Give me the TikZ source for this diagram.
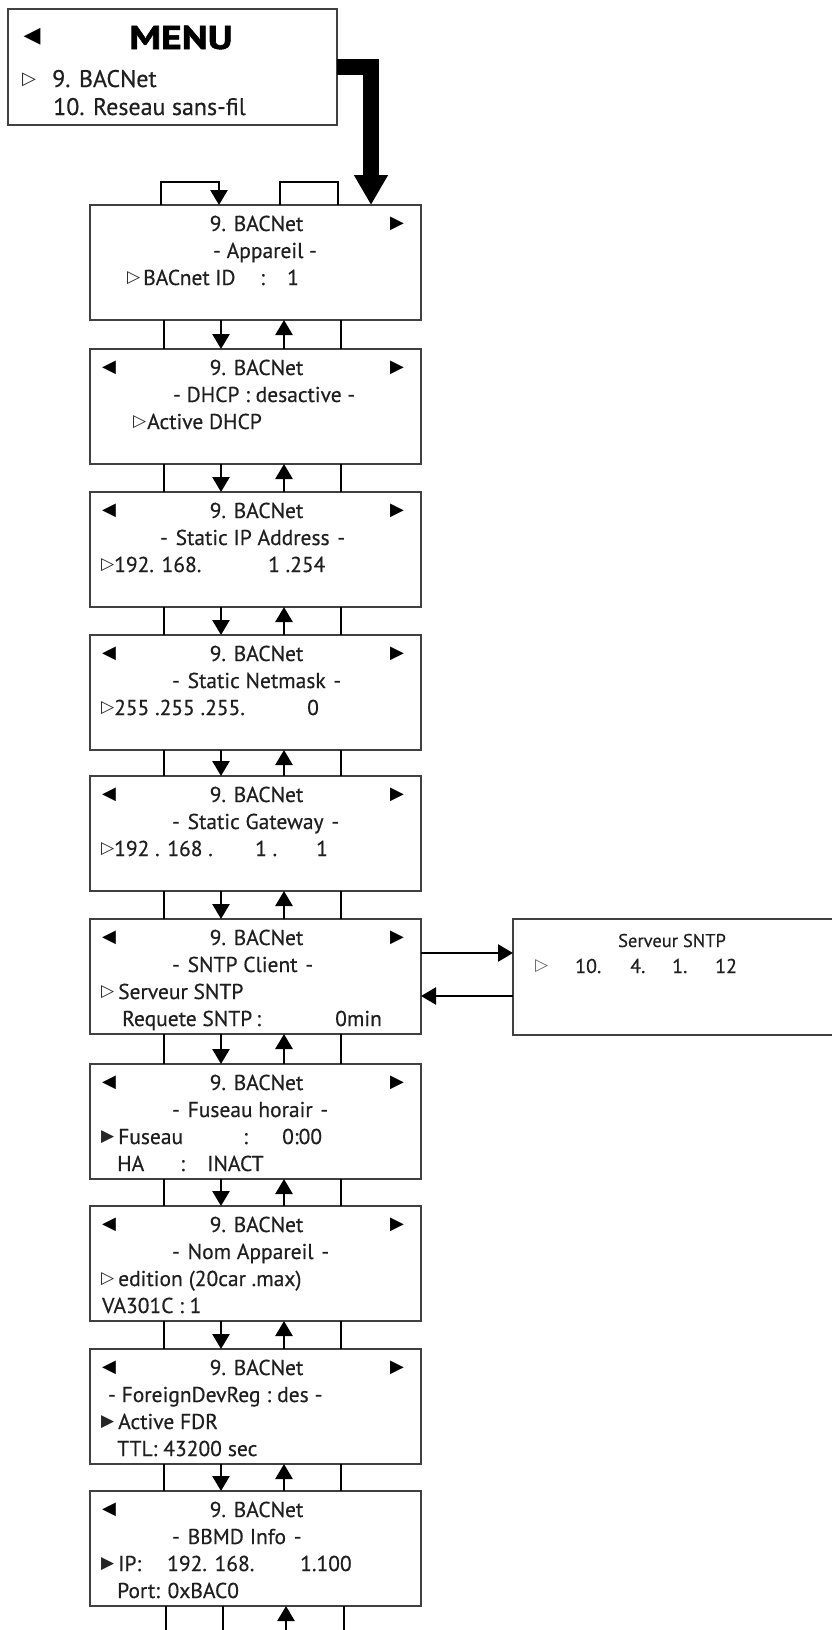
\documentclass[tikz,border=0pt]{standalone}
\usepackage{fontspec}
\usepackage{graphicx}
\setmainfont{PT Sans}[FakeBold=0.45]
\newfontfamily\menufont{PT Sans}[FakeBold=1.6]
\newfontfamily\sym{DejaVu Sans}
\usetikzlibrary{arrows.meta}
\newcommand\scr[4]{%
  \node[screen] (#1) at (90,#2) {};
  \node[ct] (#1-r1) at ([xshift=1pt,yshift=-26pt]#1.north) {9. BACNet};
  \ifnum#3=1 \node[mk] (#1-l) at ([xshift=19pt,yshift=-18.5pt]#1.north west) {◀};\fi
  \ifnum#4=1 \node[mk] (#1-r) at ([xshift=307pt,yshift=-18.5pt]#1.north west) {▶};\fi
}
\newcommand\putl[5]{\node[lt] (#1) at ([xshift=#3pt,yshift=-#4pt]#2.north west) {#5};}
\newcommand\puttri[5]{\node[tri] (#1) at ([xshift=#3pt,yshift=-#4pt]#2.north west) {#5};}
\begin{document}
\begin{tikzpicture}[x=1pt,y=-1pt,
  screen/.style={draw=black!75, line width=1.6pt, minimum width=331pt, minimum height=115pt, anchor=north west, inner sep=0pt, outer sep=0pt},
  conn/.style={line width=2.6pt, draw=black},
  endtip/.style={-{Triangle[length=15pt,width=17pt]}},
  starttip/.style={{Triangle[length=15pt,width=17pt]}-},
  txt/.style={font=\fontsize{21.5}{24}\selectfont, inner sep=0pt, text=black!88},
  lt/.style={txt, anchor=base west},
  ct/.style={txt, anchor=base},
  mk/.style={font=\sym\fontsize{18}{20}\selectfont, inner sep=0pt, anchor=center, text=black},
  tri/.style={font=\sym\fontsize{17}{20}\selectfont, inner sep=0pt, anchor=west, text=black!85},
]
\useasboundingbox (0,0) rectangle (832,1630);

% MENU
\node[draw=black!75, line width=1.6pt, minimum width=329pt, minimum height=116pt, anchor=north west, inner sep=0pt, outer sep=0pt] (menu) at (8,9) {};
\node[font=\menufont\bfseries\fontsize{33}{40}\selectfont, inner sep=0pt, anchor=base] (menu-t) at ([xshift=8.5pt,yshift=-40pt]menu.north) {\scalebox{1.2}[1]{MENU}};
\node[mk, font=\sym\fontsize{22}{24}\selectfont] (menu-l) at ([xshift=24pt,yshift=-28pt]menu.north west) {◀};
\node[tri, font=\sym\fontsize{18}{20}\selectfont] (menu-p) at ([xshift=14pt,yshift=-71pt]menu.north west) {▷};
\node[lt, font=\fontsize{24}{26}\selectfont] (menu-a) at ([xshift=44pt,yshift=-78pt]menu.north west) {9. BACNet};
\node[lt, font=\fontsize{24}{26}\selectfont] (menu-b) at ([xshift=45pt,yshift=-106pt]menu.north west) {10. Reseau sans-fil};

% screens
\scr{b1}{205}{0}{1}
\scr{b2}{349}{1}{1}
\scr{b3}{492}{1}{1}
\scr{b4}{635}{1}{1}
\scr{b5}{776}{1}{1}
\scr{b6}{919}{1}{1}
\scr{b7}{1064}{1}{1}
\scr{b8}{1206}{1}{1}
\scr{b9}{1349}{1}{1}
\scr{b10}{1491}{1}{0}

% b1
\putl{b1-r2}{b1}{123}{53}{- Appareil -}
\puttri{b1-p}{b1}{37}{73}{▷}
\putl{b1-a}{b1}{53}{80}{BACnet}
\putl{b1-b}{b1}{125}{80}{ID}
\putl{b1-c}{b1}{170}{80}{:}
\putl{b1-d}{b1}{197}{80}{1}
% b2
\putl{b2-r2}{b2}{83}{53}{- DHCP : desactive -}
\puttri{b2-p}{b2}{43}{73}{▷}
\putl{b2-a}{b2}{57}{80}{Active DHCP}
% b3
\putl{b3-r2}{b3}{70}{53}{- \hspace{2pt}Static IP Address\hspace{2pt} -}
\puttri{b3-p}{b3}{11}{73}{▷}
\putl{b3-a}{b3}{24}{80}{192. 168.}
\putl{b3-b}{b3}{178}{80}{1 .254}
% b4
\putl{b4-r2}{b4}{82}{53}{- \hspace{2pt}Static Netmask\hspace{2pt} -}
\puttri{b4-p}{b4}{11}{73}{▷}
\putl{b4-a}{b4}{24}{80}{255 .255 .255.}
\putl{b4-b}{b4}{217}{80}{0}
% b5
\putl{b5-r2}{b5}{82}{53}{- \hspace{2pt}Static Gateway\hspace{2pt} -}
\puttri{b5-p}{b5}{11}{73}{▷}
\putl{b5-a}{b5}{24}{80}{192 . 168 .}
\putl{b5-b}{b5}{165}{80}{1 .}
\putl{b5-c}{b5}{226}{80}{1}
% b6
\putl{b6-r2}{b6}{82}{53}{- \hspace{2pt}SNTP Client\hspace{2pt} -}
\puttri{b6-p}{b6}{11}{73}{▷}
\putl{b6-a}{b6}{28}{80}{Serveur SNTP}
\putl{b6-b}{b6}{32}{107}{Requete SNTP\hspace{4pt}:}
\putl{b6-c}{b6}{245}{107}{0min}
% b7
\putl{b7-r2}{b7}{82}{53}{- \hspace{2pt}Fuseau horair\hspace{2pt} -}
\puttri{b7-p}{b7}{11}{73}{▶}
\putl{b7-a}{b7}{28}{80}{Fuseau}
\putl{b7-b}{b7}{153}{80}{:}
\putl{b7-c}{b7}{192}{80}{0:00}
\putl{b7-d}{b7}{27}{107}{HA}
\putl{b7-e}{b7}{90}{107}{:}
\putl{b7-f}{b7}{117}{107}{INACT}
% b8
\putl{b8-r2}{b8}{82}{53}{- \hspace{2pt}Nom Appareil\hspace{2pt} -}
\puttri{b8-p}{b8}{11}{73}{▷}
\putl{b8-a}{b8}{28}{80}{edition\hspace{6pt}(20car .max)}
\putl{b8-b}{b8}{12}{107}{VA301C : 1}
% b9
\putl{b9-r2}{b9}{18}{53}{- ForeignDevReg\hspace{6pt}:\hspace{6pt}des\hspace{6pt}-}
\puttri{b9-p}{b9}{11}{73}{▶}
\putl{b9-a}{b9}{28}{80}{Active FDR}
\putl{b9-b}{b9}{27}{107}{TTL:\hspace{6pt}43200\hspace{6pt}sec}
% b10
\putl{b10-r2}{b10}{82}{53}{- \hspace{2pt}BBMD\hspace{6pt}Info\hspace{2pt} -}
\puttri{b10-p}{b10}{11}{73}{▶}
\putl{b10-a}{b10}{28}{80}{IP:}
\putl{b10-b}{b10}{77}{80}{192. 168.}
\putl{b10-c}{b10}{210}{80}{1.100}
\putl{b10-d}{b10}{27}{107}{Port: 0xBAC0}

% big arrow from menu
\draw[line width=16pt, line join=miter, -{Triangle[length=30pt,width=32pt]}] (menu.east) -| ([xshift=281pt]b1.north west);

% top loops
\draw[conn, endtip] ([xshift=71pt]b1.north west) -- ++(0,-23) -| ([xshift=129pt]b1.north west);
\draw[conn] ([xshift=190pt]b1.north west) -- ++(0,-23) -| ([xshift=248pt]b1.north west);

% between screens
\foreach \a/\b in {b1/b2,b2/b3,b3/b4,b4/b5,b5/b6,b6/b7,b7/b8,b8/b9,b9/b10}{
  \draw[conn] ([xshift=74pt]\a.south west) -- ([xshift=74pt]\b.north west);
  \draw[conn, endtip] ([xshift=131pt]\a.south west) -- ([xshift=131pt]\b.north west);
  \draw[conn, endtip] ([xshift=194pt]\b.north west) -- ([xshift=194pt]\a.south west);
  \draw[conn] ([xshift=251pt]\a.south west) -- ([xshift=251pt]\b.north west);
}

% bottom loops
\draw[conn] ([xshift=76pt]b10.south west) -- ++(0,40) -| ([xshift=133pt]b10.south west);
\draw[conn, starttip] ([xshift=196pt]b10.south west) -- ++(0,40) -| ([xshift=254pt]b10.south west);

% SNTP server
\node[screen, minimum width=322pt, minimum height=116pt] (srv) at (513,919) {};
\node[ct, font=\fontsize{18.5}{20}\selectfont] (srv-t) at ([xshift=159pt,yshift=-28pt]srv.north west) {Serveur SNTP};
\node[tri, text=black!60] (srv-p) at ([xshift=22pt,yshift=-47pt]srv.north west) {▷};
\node[lt, font=\fontsize{20}{22}\selectfont] (srv-a) at ([xshift=62pt,yshift=-54pt]srv.north west) {10.};
\node[lt, font=\fontsize{20}{22}\selectfont] (srv-b) at ([xshift=117pt,yshift=-54pt]srv.north west) {4.};
\node[lt, font=\fontsize{20}{22}\selectfont] (srv-c) at ([xshift=159pt,yshift=-54pt]srv.north west) {1.};
\node[lt, font=\fontsize{20}{22}\selectfont] (srv-d) at ([xshift=202pt,yshift=-54pt]srv.north west) {12};
\draw[conn, endtip] ([yshift=-34pt]b6.north east) -- ([yshift=-34pt]srv.north west);
\draw[conn, endtip] ([yshift=-77pt]srv.north west) -- ([yshift=-77pt]b6.north east);
\end{tikzpicture}
\end{document}
